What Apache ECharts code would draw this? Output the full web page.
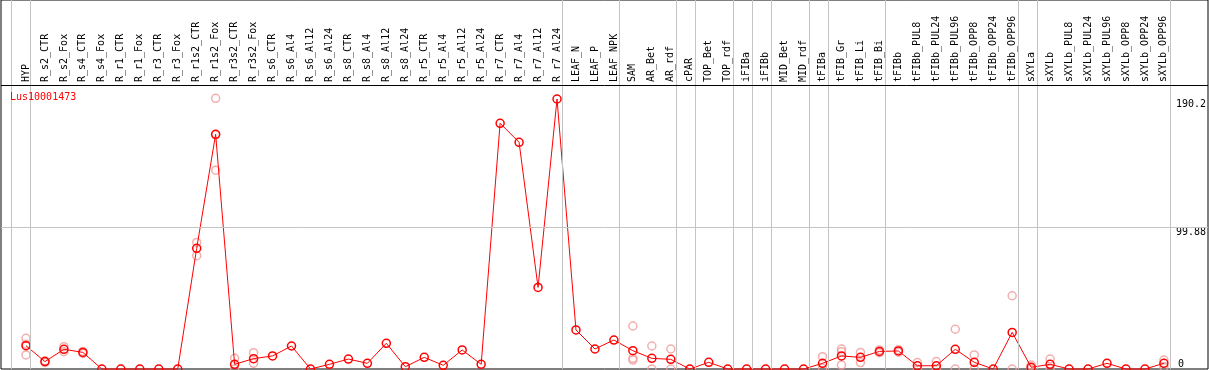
<!DOCTYPE html>
<html>
<head>
<meta charset="utf-8">
<script src="https://cdn.jsdelivr.net/npm/echarts@6/dist/echarts.min.js"></script>
<style>
  html, body { margin: 0; padding: 0; background: #fff; }
  #chart { width: 1209px; height: 370px; }
</style>
</head>
<body>
<div id="chart"></div>
<script>
// sample names, left to right
const categories = [
  'HYP', 'R_s2_CTR', 'R_s2_Fox', 'R_s4_CTR', 'R_s4_Fox', 'R_r1_CTR', 'R_r1_Fox',
  'R_r3_CTR', 'R_r3_Fox', 'R_r1s2_CTR', 'R_r1s2_Fox', 'R_r3s2_CTR', 'R_r3s2_Fox',
  'R_s6_CTR', 'R_s6_Al4', 'R_s6_Al12', 'R_s6_Al24', 'R_s8_CTR', 'R_s8_Al4',
  'R_s8_Al12', 'R_s8_Al24', 'R_r5_CTR', 'R_r5_Al4', 'R_r5_Al12', 'R_r5_Al24',
  'R_r7_CTR', 'R_r7_Al4', 'R_r7_Al12', 'R_r7_Al24', 'LEAF_N', 'LEAF_P', 'LEAF_NPK',
  'SAM', 'AR_Bet', 'AR_rdf', 'cPAR', 'TOP_Bet', 'TOP_rdf', 'iFIBa', 'iFIBb',
  'MID_Bet', 'MID_rdf', 'tFIBa', 'tFIB_Gr', 'tFIB_Li', 'tFIB_Bi', 'tFIBb',
  'tFIBb_PUL8', 'tFIBb_PUL24', 'tFIBb_PUL96', 'tFIBb_OPP8', 'tFIBb_OPP24', 'tFIBb_OPP96',
  'sXYLa', 'sXYLb', 'sXYLb_PUL8', 'sXYLb_PUL24', 'sXYLb_PUL96', 'sXYLb_OPP8',
  'sXYLb_OPP24', 'sXYLb_OPP96'
];

// mean expression (red line)
const meanValues = [
  16.4, 5.2, 13.9, 11.7, 0, 0, 0, 0, 0, 85.0, 165.3, 3.3, 7.3,
  9.2, 16.2, 0, 3.3, 7.0, 4.0, 18.1, 1.6, 8.2, 2.6, 13.4, 3.3,
  173.1, 159.7, 57.5, 190.2, 27.5, 14.1, 20.4,
  12.9, 7.5, 6.8, 0, 4.7, 0, 0, 0, 0, 0,
  4.0, 9.2, 8.2, 12.4, 12.7, 2.3, 2.3, 13.9, 4.7, 0, 25.8,
  1.2, 3.3, 0, 0, 4.0, 0, 0, 4.0
];

// replicate values (pale circles), null where none is visible
const repHigh = [
  21.6, 5.8, 15.7, 12.4, null, null, null, null, null, 89.2, 190.7, 7.5, 11.5,
  null, null, null, null, null, null, null, null, null, null, null, null,
  null, null, null, null, null, null, null,
  30.3, 16.2, 14.1, null, null, null, null, null, null, null,
  8.7, 14.1, 11.7, 13.4, 13.6, 4.5, 5.2, 28.0, 9.9, null, 51.6,
  2.8, 7.0, null, null, null, null, null, 6.3
];
const repLow = [
  9.9, 4.6, 12.2, 11.0, null, null, null, null, null, 79.8, 140.0, 0, 4.0,
  null, null, null, null, null, null, null, null, null, null, null, null,
  null, null, null, null, null, null, null,
  6.3, 0, 0, null, null, null, null, null, null, null,
  0.5, 2.8, 4.5, 11.5, 11.8, 0, 0, 0, 0, null, 0,
  0, 0, null, null, null, null, null, 1.5
];
const repMid = [
  17.5, null, null, null, null, null, null, null, null, null, 165.0, null, null,
  null, null, null, null, null, null, null, null, null, null, null, null,
  null, null, null, null, null, null, null,
  7.5, null, null, null, null, null, null, null, null, null,
  null, 12.2, null, null, null, null, null, null, null, null, null,
  null, null, null, null, null, null, null, null
];

// first sample of each group; a grey rule is drawn before it (and after the last sample)
const groupStarts = [
  'HYP', 'R_s2_CTR', 'LEAF_N', 'SAM', 'cPAR', 'TOP_Bet', 'iFIBa', 'iFIBb',
  'MID_Bet', 'tFIBa', 'tFIB_Gr', 'tFIBb', 'sXYLa', 'sXYLb'
];

const yMin = 0;
const yMax = 190.2;
const yTicks = [0, 99.88, 190.2];
const yGridValues = [99.88];

// layout
const W = 1209, H = 370;
const X0 = 26, STEP = 19;
const FRAME_L = 1, FRAME_R = 1208;
const TOP_AXIS = 85, PLOT_TOP = 99, PLOT_BOTTOM = 369;
const RULE_SHIFT = 0.24;
const FONT = 'DejaVu Sans Mono';
const RED = '#ff0000';
const PINK = '#f09a9a';
const GREY = '#c4c4c4';

const n = categories.length;
const dataRight = W - (X0 + STEP * (n - 1));

const ruleX = groupStarts.map(name => categories.indexOf(name)).concat([n])
  .map(i => i - 1 + RULE_SHIFT);

const repPoints = [];
[repHigh, repLow, repMid].forEach(arr => {
  arr.forEach((v, i) => {
    if (v !== null) repPoints.push([i, v]);
  });
});

const chart = echarts.init(document.getElementById('chart'));

const labelStyle = { fontFamily: FONT, fontSize: 10, color: '#000' };

const option = {
  animation: false,
  backgroundColor: '#fff',
  title: {
    text: 'Lus10001473',
    left: 10,
    top: 92,
    padding: 0,
    textStyle: { color: RED, fontSize: 10, fontWeight: 'normal', fontFamily: FONT }
  },
  graphic: [{
    type: 'line',
    shape: { x1: FRAME_L, y1: TOP_AXIS + 0.5, x2: FRAME_R, y2: TOP_AXIS + 0.5 },
    style: { stroke: '#000', lineWidth: 1 },
    z: 10
  }],
  grid: [
    { left: FRAME_L, right: W - FRAME_R, top: 0, bottom: H - PLOT_BOTTOM,
      show: true, borderColor: '#000', borderWidth: 1, backgroundColor: 'transparent' },
    { left: FRAME_L, right: W - FRAME_R, top: PLOT_TOP, bottom: H - PLOT_BOTTOM },
    { left: X0, right: dataRight, top: PLOT_TOP, bottom: H - PLOT_BOTTOM }
  ],
  xAxis: [
    { gridIndex: 0, type: 'value', min: (FRAME_L - X0) / STEP, max: (FRAME_R - X0) / STEP, show: false },
    { gridIndex: 1, type: 'value', min: 0, max: 1, show: false },
    {
      gridIndex: 2,
      type: 'category',
      data: categories,
      boundaryGap: false,
      position: 'top',
      offset: PLOT_TOP - TOP_AXIS,
      axisLine: { show: false },
      axisTick: { show: false },
      splitLine: { show: false },
      axisLabel: Object.assign({ interval: 0, rotate: 90, margin: 3 }, labelStyle)
    }
  ],
  yAxis: [
    { gridIndex: 0, type: 'value', min: 0, max: 1, show: false },
    { gridIndex: 1, type: 'value', min: yMin, max: yMax, show: false },
    {
      gridIndex: 2, type: 'value', min: yMin, max: yMax, position: 'right',
      axisLine: { show: false }, axisTick: { show: false }, splitLine: { show: false },
      axisLabel: Object.assign({
        customValues: yTicks.filter(v => v !== yMin),
        verticalAlign: 'top', margin: 12
      }, labelStyle)
    },
    {
      gridIndex: 2, type: 'value', min: yMin, max: yMax, position: 'right',
      axisLine: { show: false }, axisTick: { show: false }, splitLine: { show: false },
      axisLabel: Object.assign({
        customValues: yTicks.filter(v => v === yMin),
        verticalAlign: 'bottom', margin: 14
      }, labelStyle)
    }
  ],
  series: [
    {
      name: 'groups',
      type: 'line',
      xAxisIndex: 0,
      yAxisIndex: 0,
      data: [],
      silent: true,
      markLine: {
        silent: true,
        symbol: 'none',
        label: { show: false },
        lineStyle: { color: GREY, width: 1, type: 'solid' },
        data: ruleX.map(x => ({ xAxis: x }))
      }
    },
    {
      name: 'grid',
      type: 'line',
      xAxisIndex: 1,
      yAxisIndex: 1,
      data: [],
      silent: true,
      markLine: {
        silent: true,
        symbol: 'none',
        label: { show: false },
        lineStyle: { color: GREY, width: 1, type: 'solid' },
        data: yGridValues.map(v => ({ yAxis: v }))
      }
    },
    {
      name: 'replicates',
      type: 'scatter',
      xAxisIndex: 2,
      yAxisIndex: 2,
      data: repPoints,
      symbol: 'circle',
      symbolSize: 8,
      clip: false,
      itemStyle: { color: 'rgba(0,0,0,0)', borderColor: PINK, borderWidth: 1.5 }
    },
    {
      name: 'Lus10001473',
      type: 'line',
      xAxisIndex: 2,
      yAxisIndex: 2,
      data: meanValues,
      symbol: 'circle',
      symbolSize: 8,
      showAllSymbol: true,
      clip: false,
      lineStyle: { color: RED, width: 1 },
      itemStyle: { color: 'rgba(0,0,0,0)', borderColor: RED, borderWidth: 1.5 }
    }
  ]
};

chart.setOption(option);
</script>
</body>
</html>
